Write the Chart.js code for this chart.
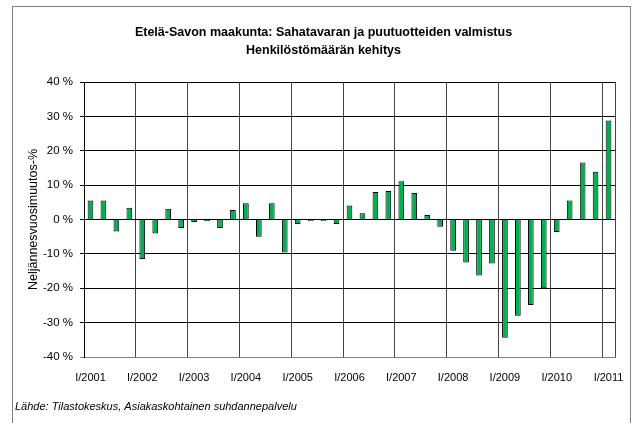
<!DOCTYPE html>
<html>
<head>
<meta charset="utf-8">
<script src="https://cdn.jsdelivr.net/npm/chart.js@4"></script>
<style>
  html, body { margin: 0; padding: 0; background: #fff; }
  canvas { display: block; }
</style>
</head>
<body>
<canvas id="staffChart" width="639" height="423"></canvas>
<script>
// quarterly categories, I/2001 ... I/2011
const quarters = [
    'I/2001', 'II/2001', 'III/2001', 'IV/2001',
    'I/2002', 'II/2002', 'III/2002', 'IV/2002',
    'I/2003', 'II/2003', 'III/2003', 'IV/2003',
    'I/2004', 'II/2004', 'III/2004', 'IV/2004',
    'I/2005', 'II/2005', 'III/2005', 'IV/2005',
    'I/2006', 'II/2006', 'III/2006', 'IV/2006',
    'I/2007', 'II/2007', 'III/2007', 'IV/2007',
    'I/2008', 'II/2008', 'III/2008', 'IV/2008',
    'I/2009', 'II/2009', 'III/2009', 'IV/2009',
    'I/2010', 'II/2010', 'III/2010', 'IV/2010',
    'I/2011'
];

// year-on-year change of personnel, %
const changePct = [
    5.5, 5.5, -3.5, 3.4,
    -11.5, -4.1, 3.1, -2.5,
    -0.7, -0.5, -2.5, 2.8,
    4.7, -5.0, 4.7, -9.6,
    -1.3, -0.4, -0.4, -1.3,
    4.1, 1.8, 8.0, 8.3,
    11.1, 7.7, 1.3, -2.1,
    -9.1, -12.5, -16.3, -12.8,
    -34.4, -28.0, -24.9, -20.0,
    -3.6, 5.5, 16.6, 13.9,
    28.8
];

const yTicks = [-40, -30, -20, -10, 0, 10, 20, 30, 40];

const chartTitle = ['Etelä-Savon maakunta: Sahatavaran ja puutuotteiden valmistus', 'Henkilöstömäärän kehitys'];
const yAxisTitle = 'Neljännesvuosimuutos-%';
const sourceText = 'Lähde: Tilastokeskus, Asiakaskohtainen suhdannepalvelu';

const fontFamily = "'Liberation Sans', Arial, sans-serif";

// grey frame around the whole picture + source line at the bottom
const framePlugin = {
    id: 'frame',
    afterDraw(chart) {
        const ctx = chart.ctx;
        ctx.save();
        ctx.strokeStyle = '#808080';
        ctx.lineWidth = 1;
        ctx.strokeRect(12.5, 6.5, 618, 440);
        ctx.fillStyle = '#000';
        ctx.font = 'italic 11px ' + fontFamily;
        ctx.textAlign = 'left';
        ctx.textBaseline = 'middle';
        ctx.fillText(sourceText, 15, 407);
        ctx.restore();
    }
};

document.addEventListener('DOMContentLoaded', function() {
    const ctx = document.getElementById('staffChart').getContext('2d');

    new Chart(ctx, {
        type: 'bar',
        data: {
            labels: quarters,
            datasets: [{
                data: changePct,
                backgroundColor: '#00B050',
                borderColor: '#000',
                borderWidth: 1,
                barPercentage: 0.44,
                categoryPercentage: 1
            }]
        },
        options: {
            responsive: false,
            animation: false,
            layout: {
                padding: { left: 32, right: 24, top: 0, bottom: 26 }
            },
            plugins: {
                legend: { display: false },
                tooltip: { enabled: false },
                title: {
                    display: true,
                    text: chartTitle,
                    color: '#000',
                    font: { family: fontFamily, size: 12.5, weight: 'bold', lineHeight: 18 / 12.5 },
                    padding: { top: 24, bottom: 22 }
                }
            },
            scales: {
                x: {
                    grid: {
                        offset: true,
                        drawTicks: false,
                        lineWidth: 1,
                        color: c => (c.index === undefined || c.index % 4 === 0) ? '#444' : 'rgba(0,0,0,0)'
                    },
                    border: { color: '#808080' },
                    ticks: {
                        autoSkip: false,
                        maxRotation: 0,
                        padding: 14,
                        color: '#000',
                        font: { family: fontFamily, size: 11 },
                        callback: (v, i) => i % 4 === 0 ? quarters[i] : ''
                    },
                    afterFit: scale => { scale.height = 40; }
                },
                y: {
                    min: -40,
                    max: 40,
                    afterBuildTicks: scale => { scale.ticks = yTicks.map(v => ({ value: v })); },
                    grid: {
                        color: c => c.tick && c.tick.value === -40 ? '#808080' : '#000',
                        lineWidth: 1,
                        tickLength: 4
                    },
                    border: { color: '#000' },
                    ticks: {
                        padding: 7,
                        color: '#000',
                        font: { family: fontFamily, size: 11.5 },
                        callback: v => v + ' %'
                    },
                    title: {
                        display: true,
                        text: yAxisTitle,
                        color: '#000',
                        font: { family: fontFamily, size: 12.5 },
                        padding: { top: -5.8, bottom: 0 }
                    },
                    afterFit: scale => { scale.width = 52; }
                }
            }
        },
        plugins: [framePlugin]
    });
});
</script>
</body>
</html>
